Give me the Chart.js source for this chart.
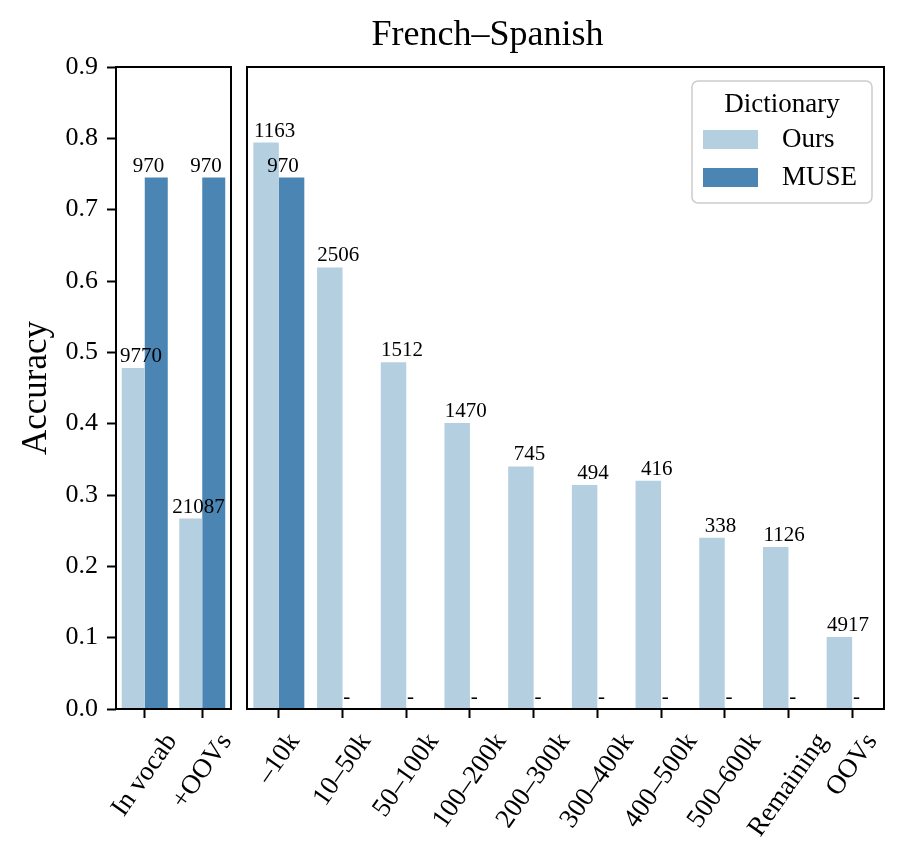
<!DOCTYPE html>
<html>
<head>
<meta charset="utf-8">
<script src="https://cdn.jsdelivr.net/npm/chart.js@4.4.0/dist/chart.umd.min.js"></script>
<style>
  html, body { margin: 0; padding: 0; background: #fff; }
  #wrap { position: relative; width: 914px; height: 867px; }
  #leftChart { position: absolute; left: 0; top: 0; }
  #rightChart { position: absolute; left: 240px; top: 0; }
</style>
</head>
<body>
<div id="wrap">
  <canvas id="leftChart" width="240" height="867"></canvas>
  <canvas id="rightChart" width="674" height="867"></canvas>
</div>
<script>
// left panel: whole test set
const overallLabels = ['In vocab', '+OOVs'];
const overallOurs = [0.478, 0.267];
const overallMuse = [0.745, 0.745];
const overallOursCount = [9770, 21087];
const overallMuseCount = [970, 970];

// right panel: by frequency bin
const freqLabels = ['–10k', '10–50k', '50–100k', '100–200k', '200–300k', '300–400k', '400–500k', '500–600k', 'Remaining', 'OOVs'];
const freqOurs = [0.794, 0.619, 0.486, 0.401, 0.340, 0.314, 0.320, 0.240, 0.227, 0.101];
const freqMuse = [0.745, 0, 0, 0, 0, 0, 0, 0, 0, 0];
const freqOursCount = [1163, 2506, 1512, 1470, 745, 494, 416, 338, 1126, 4917];
const freqMuseCount = [970, null, null, null, null, null, null, null, null, null];

const yTicks = [0, 0.1, 0.2, 0.3, 0.4, 0.5, 0.6, 0.7, 0.8, 0.9];
const seriesNames = ['Ours', 'MUSE'];
const legendTitle = 'Dictionary';
const chartTitle = 'French–Spanish';
const yTitle = 'Accuracy';

const OURS_COLOR = '#b4cfe0';
const MUSE_COLOR = '#4a85b3';
const SERIF = '"Liberation Serif", "DejaVu Serif", serif';
const TICK_SIZE = 26;
const XTICK_SIZE = 27;
const XTICK_ROT = 55 * Math.PI / 180;

const framePlugin = {
  id: 'frame',
  afterDraw(chart) {
    const { ctx, chartArea: a } = chart;
    ctx.save();
    ctx.strokeStyle = '#000';
    ctx.lineWidth = 2;
    ctx.strokeRect(a.left, a.top, a.right - a.left, a.bottom - a.top);
    ctx.restore();
  }
};

// rotated category labels, centred under each tick (matplotlib style)
const xLabelPlugin = {
  id: 'xLabels',
  afterDraw(chart) {
    const { ctx } = chart;
    const s = chart.scales.x;
    const top = chart.chartArea.bottom + 20;
    ctx.save();
    ctx.font = XTICK_SIZE + 'px ' + SERIF;
    ctx.fillStyle = '#000';
    ctx.textAlign = 'center';
    ctx.textBaseline = 'middle';
    chart.data.labels.forEach((label, i) => {
      const w = ctx.measureText(label).width;
      const H = w * Math.sin(XTICK_ROT) + XTICK_SIZE * Math.cos(XTICK_ROT);
      ctx.save();
      ctx.translate(s.getPixelForTick(i), top + H / 2);
      ctx.rotate(-XTICK_ROT);
      ctx.fillText(label, 0, 0);
      ctx.restore();
    });
    ctx.restore();
  }
};

const countPlugin = {
  id: 'counts',
  afterDatasetsDraw(chart) {
    const { ctx } = chart;
    ctx.save();
    ctx.font = '21px ' + SERIF;
    ctx.fillStyle = '#000';
    ctx.textAlign = 'center';
    ctx.textBaseline = 'alphabetic';
    chart.data.datasets.forEach((ds, di) => {
      const meta = chart.getDatasetMeta(di);
      const side = di === 0 ? 1 : -1;
      meta.data.forEach((bar, i) => {
        const c = ds.counts[i];
        const text = c == null ? '-' : String(c);
        ctx.fillText(text, bar.x + side * bar.width / 3, bar.y - 6);
      });
    });
    ctx.restore();
  }
};

const legendPlugin = {
  id: 'boxLegend',
  afterDraw(chart) {
    const { ctx, chartArea: a } = chart;
    const w = 180, h = 122;
    const x = a.right - 12 - w, y = a.top + 14;
    ctx.save();
    ctx.beginPath();
    ctx.roundRect(x, y, w, h, 6);
    ctx.fillStyle = 'rgba(255,255,255,0.8)';
    ctx.fill();
    ctx.strokeStyle = '#cccccc';
    ctx.lineWidth = 1.5;
    ctx.stroke();
    ctx.font = '27px ' + SERIF;
    ctx.fillStyle = '#000';
    ctx.textAlign = 'center';
    ctx.textBaseline = 'middle';
    ctx.fillText(legendTitle, x + w / 2, y + 24);
    ctx.textAlign = 'left';
    chart.data.datasets.forEach((ds, i) => {
      const ry = y + 49 + i * 38;
      ctx.fillStyle = ds.backgroundColor;
      ctx.fillRect(x + 11, ry, 55, 19);
      ctx.fillStyle = '#000';
      ctx.fillText(ds.label, x + 90, ry + 10);
    });
    ctx.restore();
  }
};

const titlePlugin = {
  id: 'figTitle',
  afterDraw(chart) {
    const { ctx } = chart;
    ctx.save();
    ctx.font = '36px ' + SERIF;
    ctx.fillStyle = '#000';
    ctx.textAlign = 'center';
    ctx.textBaseline = 'alphabetic';
    ctx.fillText(chartTitle, 487.5 - 240, 45);
    ctx.restore();
  }
};

function makeDatasets(ours, muse, oursCount, museCount) {
  return [
    { label: seriesNames[0], data: ours, counts: oursCount, backgroundColor: OURS_COLOR,
      categoryPercentage: 0.8, barPercentage: 1.0 },
    { label: seriesNames[1], data: muse, counts: museCount, backgroundColor: MUSE_COLOR,
      categoryPercentage: 0.8, barPercentage: 1.0 }
  ];
}

function xScale() {
  return {
    offset: true,
    grid: { offset: false, drawOnChartArea: false, drawTicks: true, tickLength: 9, tickWidth: 2, tickColor: '#000' },
    border: { display: false },
    ticks: { display: false, autoSkip: false },
    afterFit: s => { s.height = 158; s.paddingLeft = 0; s.paddingRight = 0; }
  };
}

function yScale(show) {
  return {
    min: 0,
    max: 0.9,
    display: show,
    afterBuildTicks: s => { s.ticks = yTicks.map(v => ({ value: v })); },
    grid: { drawOnChartArea: false, drawTicks: true, tickLength: 9, tickWidth: 2, tickColor: '#000' },
    border: { display: false },
    ticks: {
      padding: 9,
      color: '#000',
      font: { family: SERIF, size: TICK_SIZE },
      callback: v => Number(v).toFixed(1)
    },
    title: {
      display: show,
      text: yTitle,
      color: '#000',
      font: { family: SERIF, size: 35 },
      padding: { top: 16, bottom: 0 }
    },
    afterFit: s => { s.width = show ? 116 : 0; }
  };
}

const commonOptions = {
  responsive: false,
  animation: false,
  plugins: { legend: { display: false }, tooltip: { enabled: false }, title: { display: false } }
};

new Chart(document.getElementById('leftChart'), {
  type: 'bar',
  data: { labels: overallLabels, datasets: makeDatasets(overallOurs, overallMuse, overallOursCount, overallMuseCount) },
  options: {
    ...commonOptions,
    layout: { padding: { left: 0, right: 9, top: 67, bottom: 0 } },
    scales: { x: xScale(), y: yScale(true) }
  },
  plugins: [countPlugin, framePlugin, xLabelPlugin]
});

new Chart(document.getElementById('rightChart'), {
  type: 'bar',
  data: { labels: freqLabels, datasets: makeDatasets(freqOurs, freqMuse, freqOursCount, freqMuseCount) },
  options: {
    ...commonOptions,
    layout: { padding: { left: 7, right: 30, top: 67, bottom: 0 } },
    scales: { x: xScale(), y: yScale(false) }
  },
  plugins: [countPlugin, framePlugin, xLabelPlugin, legendPlugin, titlePlugin]
});
</script>
</body>
</html>
